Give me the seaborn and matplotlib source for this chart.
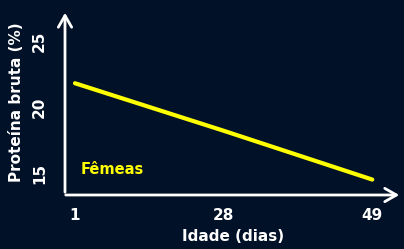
import matplotlib
matplotlib.use("Agg")
from matplotlib import pyplot as plt
import seaborn as sns

# data
days = ["1", "28", "49"]
protein = [21.8, 18.2, 14.5]
yticks = [15, 20, 25]

bg = "#011127"
fg = "white"
yellow = "#ffff00"

sns.set_theme(style="white")
plt.rcParams["font.family"] = ["DejaVu Sans"]
plt.rcParams["font.weight"] = "bold"

fig = plt.figure(figsize=(4.04, 2.49), dpi=100, facecolor=bg)
ax = fig.add_axes([65 / 404, 54 / 249, 337 / 404, 185 / 249])
ax.set_facecolor(bg)

pos = list(range(len(days)))
sns.lineplot(x=pos, y=protein, ax=ax, color=yellow, linewidth=3)

ax.set_xlim(-0.067, 2.2)
ax.set_ylim(13.33, 27.35)
ax.set_xticks(pos)
ax.set_xticklabels(days)
ax.set_yticks(yticks)
ax.set_yticklabels([str(t) for t in yticks], rotation=90, va="center")
ax.tick_params(colors=fg, labelsize=11, length=0)
ax.tick_params(axis="x", pad=9)
ax.tick_params(axis="y", pad=13)
for lab in ax.get_xticklabels() + ax.get_yticklabels():
    lab.set_fontweight("bold")

ax.set_xlabel("Idade (dias)", color=fg, fontsize=11, fontweight="bold", labelpad=5)
ax.set_ylabel("Proteína bruta (%)", color=fg, fontsize=11, fontweight="bold", labelpad=6)

for s in ["top", "right", "left", "bottom"]:
    ax.spines[s].set_visible(False)

# axes drawn as arrows
ax.annotate("", xy=(0, 1.0), xytext=(0, 0), xycoords="axes fraction",
            arrowprops=dict(arrowstyle="->,head_length=0.7,head_width=0.4", color=fg, lw=2),
            annotation_clip=False)
ax.annotate("", xy=(1.0, 0), xytext=(-0.006, 0), xycoords="axes fraction",
            arrowprops=dict(arrowstyle="->,head_length=0.7,head_width=0.4", color=fg, lw=2),
            annotation_clip=False)

ax.text(0.045, 0.095, "Fêmeas", transform=ax.transAxes, color=yellow,
        fontsize=10.5, fontweight="bold", ha="left", va="bottom")

fig.savefig("out.png", dpi=100, facecolor=bg)
